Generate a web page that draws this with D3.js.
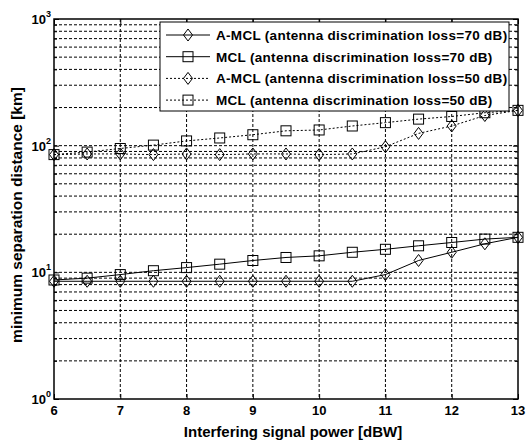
<!DOCTYPE html>
<html>
<head>
<meta charset="utf-8">
<script src="https://cdn.jsdelivr.net/npm/d3@7"></script>
<style>
  body { margin: 0; background: #fff; }
  text { font-family: "Liberation Sans", Arial, sans-serif; font-weight: bold; fill: #000; }
</style>
</head>
<body>
<div id="chart"></div>
<script>
// interfering signal power [dBW]
var power = [6, 6.5, 7, 7.5, 8, 8.5, 9, 9.5, 10, 10.5, 11, 11.5, 12, 12.5, 13];

// minimum separation distance [km]
var amcl70 = [8.5, 8.5, 8.5, 8.5, 8.5, 8.5, 8.5, 8.5, 8.5, 8.5, 9.6, 12.4, 14.4, 16.8, 18.9];
var mcl70  = [8.7, 9.0, 9.6, 10.3, 10.9, 11.6, 12.4, 13.1, 13.5, 14.4, 15.2, 16.2, 17.2, 18.3, 18.9];
var amcl50 = [85, 86, 86, 85, 86, 85, 86, 86, 85, 86, 98, 125, 143, 173, 190];
var mcl50  = [85, 89, 95, 101, 109, 115, 122, 131, 133, 143, 152, 162, 170, 182, 190];

var seriesNames = [
  "A-MCL (antenna discrimination loss=70 dB)",
  "MCL (antenna discrimination loss=70 dB)",
  "A-MCL (antenna discrimination loss=50 dB)",
  "MCL (antenna discrimination loss=50 dB)"
];
var xTicks = [6, 7, 8, 9, 10, 11, 12, 13];
var yTicks = [1, 10, 100, 1000];

var width = 527, height = 444;
var mLeft = 54, mRight = 518, mTop = 19, mBottom = 399;

var svg = d3.select("#chart").append("svg")
    .attr("width", width)
    .attr("height", height);

var x = d3.scaleLinear().domain([6, 13]).range([mLeft, mRight]);
var y = d3.scaleLog().domain([1, 1000]).range([mBottom, mTop]);

// minor values for the log grid
var minorY = [];
[1, 10, 100].forEach(function(d) {
    for (var k = 2; k <= 9; k++) minorY.push(d * k);
});

// grid
var grid = svg.append("g");
grid.selectAll("line.gy")
    .data(minorY.concat([10, 100]))
    .enter().append("line")
    .attr("x1", mLeft).attr("x2", mRight)
    .attr("y1", function(d) { return y(d); })
    .attr("y2", function(d) { return y(d); })
    .attr("stroke", "#000").attr("stroke-width", 1)
    .attr("stroke-dasharray", "3,2");
grid.selectAll("line.gx")
    .data(xTicks.slice(1, -1))
    .enter().append("line")
    .attr("y1", mTop).attr("y2", mBottom)
    .attr("x1", function(d) { return x(d); })
    .attr("x2", function(d) { return x(d); })
    .attr("stroke", "#000").attr("stroke-width", 1)
    .attr("stroke-dasharray", "3,2");

// axes (ticks inside, on all four sides)
function noDomain(g) { g.select(".domain").remove(); }
svg.append("g")
    .attr("transform", "translate(0," + mBottom + ")")
    .call(d3.axisTop(x).tickValues(xTicks).tickSize(5).tickFormat(""))
    .call(noDomain);
svg.append("g")
    .attr("transform", "translate(0," + mTop + ")")
    .call(d3.axisBottom(x).tickValues(xTicks).tickSize(5).tickFormat(""))
    .call(noDomain);
svg.append("g")
    .attr("transform", "translate(" + mLeft + ",0)")
    .call(d3.axisRight(y).tickValues(minorY).tickSize(3).tickFormat(""))
    .call(noDomain);
svg.append("g")
    .attr("transform", "translate(" + mRight + ",0)")
    .call(d3.axisLeft(y).tickValues(minorY).tickSize(3).tickFormat(""))
    .call(noDomain);
svg.append("g")
    .attr("transform", "translate(" + mLeft + ",0)")
    .call(d3.axisRight(y).tickValues(yTicks).tickSize(5).tickFormat(""))
    .call(noDomain);
svg.append("g")
    .attr("transform", "translate(" + mRight + ",0)")
    .call(d3.axisLeft(y).tickValues(yTicks).tickSize(5).tickFormat(""))
    .call(noDomain);

svg.append("rect")
    .attr("x", mLeft).attr("y", mTop)
    .attr("width", mRight - mLeft).attr("height", mBottom - mTop)
    .attr("fill", "none").attr("stroke", "#000").attr("stroke-width", 1.5);

// tick labels
svg.selectAll("text.xt")
    .data(xTicks)
    .enter().append("text")
    .attr("x", function(d) { return x(d); })
    .attr("y", mBottom + 16)
    .attr("text-anchor", "middle")
    .style("font-size", "13px")
    .text(function(d) { return d; });

var yl = svg.selectAll("text.yt")
    .data(yTicks)
    .enter().append("text")
    .attr("x", 51)
    .attr("y", function(d) { return y(d) + 5; })
    .attr("text-anchor", "end")
    .style("font-size", "13px");
yl.append("tspan").text("10");
yl.append("tspan")
    .attr("dy", -7)
    .style("font-size", "9px")
    .text(function(d) { return Math.round(Math.log10(d)); });

// axis titles
svg.append("text")
    .attr("x", 293)
    .attr("y", 437)
    .attr("text-anchor", "middle")
    .style("font-size", "15px")
    .text("Interfering signal power [dBW]");
svg.append("text")
    .attr("transform", "translate(22," + 215 + ") rotate(-90)")
    .attr("text-anchor", "middle")
    .style("font-size", "15.5px")
    .text("minimum separation distance [km]");

// markers
function drawMarker(g, type, cx, cy) {
    if (type == "square") {
        g.append("rect")
            .attr("x", cx - 5).attr("y", cy - 5)
            .attr("width", 10).attr("height", 10)
            .attr("fill", "none").attr("stroke", "#000").attr("stroke-width", 1);
    } else {
        g.append("path")
            .attr("d", "M" + cx + "," + (cy - 6) + "L" + (cx + 4.5) + "," + cy +
                       "L" + cx + "," + (cy + 6) + "L" + (cx - 4.5) + "," + cy + "Z")
            .attr("fill", "none").attr("stroke", "#000").attr("stroke-width", 1);
    }
}

var series = [
    { values: amcl70, marker: "diamond", dash: null },
    { values: mcl70, marker: "square", dash: null },
    { values: amcl50, marker: "diamond", dash: "2,2" },
    { values: mcl50, marker: "square", dash: "2,2" }
];

var line = d3.line()
    .x(function(d) { return x(d[0]); })
    .y(function(d) { return y(d[1]); });

series.forEach(function(s) {
    var pts = power.map(function(p, i) { return [p, s.values[i]]; });
    var g = svg.append("g");
    g.append("path")
        .datum(pts)
        .attr("d", line)
        .attr("fill", "none")
        .attr("stroke", "#000")
        .attr("stroke-width", 1)
        .attr("stroke-dasharray", s.dash);
    pts.forEach(function(d) { drawMarker(g, s.marker, x(d[0]), y(d[1])); });
});

// legend
var lg = svg.append("g");
lg.append("rect")
    .attr("x", 160).attr("y", 22)
    .attr("width", 349).attr("height", 89)
    .attr("fill", "#fff").attr("stroke", "#000").attr("stroke-width", 1);
series.forEach(function(s, i) {
    var ly = 35 + i * 21.7;
    lg.append("line")
        .attr("x1", 166).attr("x2", 210)
        .attr("y1", ly).attr("y2", ly)
        .attr("stroke", "#000").attr("stroke-width", 1)
        .attr("stroke-dasharray", s.dash);
    drawMarker(lg, s.marker, 188, ly);
    lg.append("text")
        .attr("x", 216).attr("y", ly + 5)
        .style("font-size", "13.5px")
        .style("letter-spacing", "0.3px")
        .text(seriesNames[i]);
});
</script>
</body>
</html>
